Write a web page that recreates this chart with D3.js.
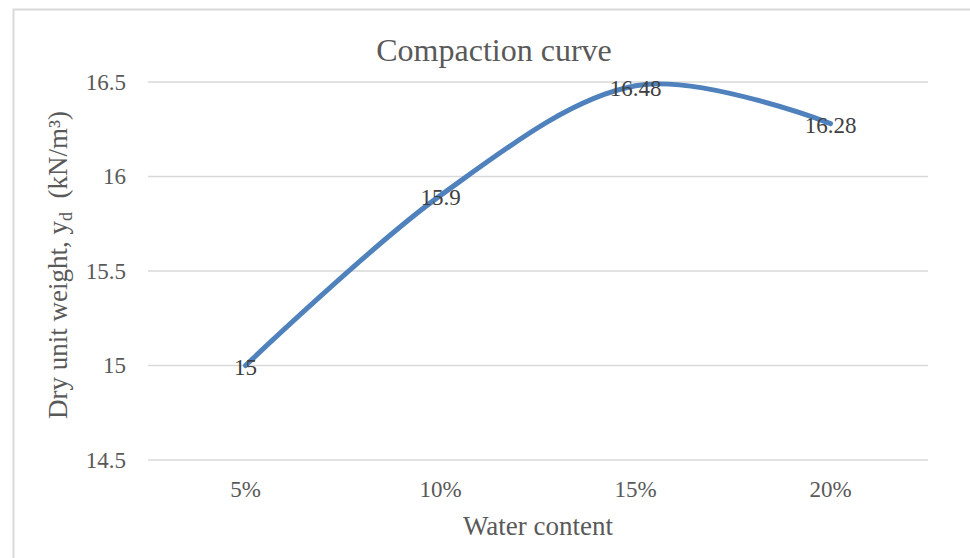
<!DOCTYPE html>
<html>
<head>
<meta charset="utf-8">
<script src="https://cdn.jsdelivr.net/npm/d3@7"></script>
<style>
  html, body { margin: 0; padding: 0; background: #fff; }
  svg { display: block; }
  svg text { font-family: "Liberation Serif", "Times New Roman", serif !important; }
</style>
</head>
<body>
<svg id="chart" width="970" height="558"></svg>
<script>
// Compaction test results
const waterContent = ["5%", "10%", "15%", "20%"];
const dryUnitWeight = [15, 15.9, 16.48, 16.28];
const yTicks = [14.5, 15, 15.5, 16, 16.5];

const SERIF = "'Liberation Serif', 'Times New Roman', serif";
const svg = d3.select("#chart");
const W = 970, H = 558;
const margin = { left: 148, right: 42, top: 82, bottom: 98 };

// chart frame
svg.append("rect")
  .attr("x", 13.5).attr("y", 9.5)
  .attr("width", 1000).attr("height", 600)
  .attr("fill", "#fff")
  .attr("stroke", "#d9d9d9").attr("stroke-width", 2);

const x = d3.scaleBand()
  .domain(waterContent)
  .range([margin.left, W - margin.right]);

const y = d3.scaleLinear()
  .domain([14.5, 16.5])
  .range([H - margin.bottom, margin.top]);

// horizontal gridlines
svg.append("g")
  .selectAll("line")
  .data(yTicks)
  .join("line")
  .attr("x1", margin.left).attr("x2", W - margin.right)
  .attr("y1", d => y(d)).attr("y2", d => y(d))
  .attr("stroke", "#d9d9d9").attr("stroke-width", 1.5);

// y axis tick labels
const yAxis = d3.axisLeft(y).tickValues(yTicks).tickSize(0).tickPadding(0).tickFormat(d3.format(""));
svg.append("g")
  .attr("transform", `translate(${margin.left - 22},0)`)
  .call(yAxis)
  .attr("font-family", SERIF)
  .call(g => g.select(".domain").remove())
  .call(g => g.selectAll("text")
    .style("font-family", SERIF)
    .attr("font-size", 23).attr("fill", "#595959"));

// x axis tick labels
const xAxis = d3.axisBottom(x).tickSize(0).tickPadding(0);
svg.append("g")
  .attr("transform", `translate(0,${H - margin.bottom + 21})`)
  .call(xAxis)
  .attr("font-family", SERIF)
  .call(g => g.select(".domain").remove())
  .call(g => g.selectAll("text")
    .style("font-family", SERIF)
    .attr("font-size", 23).attr("fill", "#595959"));

// title
svg.append("text")
  .attr("x", 494).attr("y", 61)
  .attr("text-anchor", "middle")
  .attr("font-size", 32).attr("fill", "#595959")
  .text("Compaction curve");

// x axis title
svg.append("text")
  .attr("x", (margin.left + W - margin.right) / 2).attr("y", 535)
  .attr("text-anchor", "middle")
  .attr("font-size", 27).attr("fill", "#595959")
  .text("Water content");

// y axis title
const yt = svg.append("text")
  .attr("transform", `translate(67,${(margin.top + H - margin.bottom) / 2 - 6}) rotate(-90)`)
  .attr("text-anchor", "middle")
  .attr("font-size", 27).attr("fill", "#595959");
yt.append("tspan").text("Dry unit weight, y");
yt.append("tspan").attr("font-size", 18).attr("dy", 5).text("d");
yt.append("tspan").attr("dy", -5).text("\u00a0 (kN/m\u00b3)");

// smoothed series line
const pts = waterContent.map((c, i) => [x(c) + x.bandwidth() / 2, y(dryUnitWeight[i])]);
svg.append("path")
  .datum(pts)
  .attr("fill", "none")
  .attr("stroke", "#4f81bd")
  .attr("stroke-width", 5)
  .attr("stroke-linecap", "round")
  .attr("d", d3.line().curve(d3.curveCatmullRom.alpha(0)));

// data labels centred on each point
svg.append("g")
  .selectAll("text")
  .data(dryUnitWeight)
  .join("text")
  .attr("x", (d, i) => x(waterContent[i]) + x.bandwidth() / 2)
  .attr("y", d => y(d))
  .attr("dy", "0.43em")
  .attr("text-anchor", "middle")
  .attr("font-size", 23).attr("fill", "#404040")
  .text(d => d);
</script>
</body>
</html>
